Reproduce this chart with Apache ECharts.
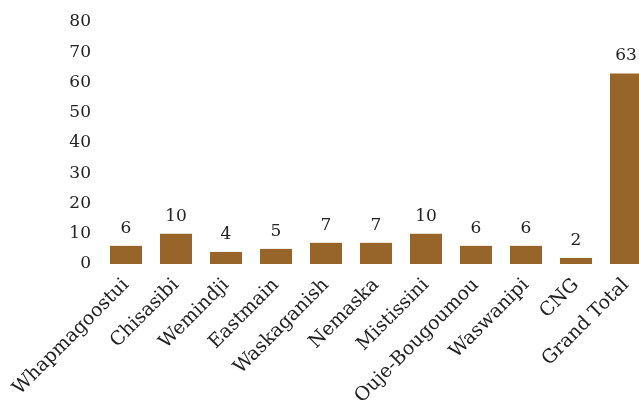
<!DOCTYPE html>
<html><head><meta charset="utf-8">
<script src="https://cdn.jsdelivr.net/npm/echarts@6/dist/echarts.min.js"></script>
<style>html,body{margin:0;padding:0;background:#fff;overflow:hidden}#c{width:651px;height:411px}</style>
</head><body><div id="c"></div>
<script>
const categories = ["Whapmagoostui","Chisasibi","Wemindji","Eastmain","Waskaganish","Nemaska","Mistissini","Ouje-Bougoumou","Waswanipi","CNG","Grand Total"];
const values = [6,10,4,5,7,7,10,6,6,2,63];
const yMin = 0, yMax = 80, yStep = 10;
const FONT = "DejaVu Serif";
const chart = echarts.init(document.getElementById('c'), null, {renderer:'canvas'});
chart.setOption({
  animation:false,
  grid:{left:101, top:22, right:0, bottom:147, containLabel:false},
  xAxis:{type:'category', data:categories,
    axisLine:{show:false}, axisTick:{show:false},
    axisLabel:{rotate:45, interval:0, margin:18, color:'#222', fontFamily:FONT, fontSize:19}},
  yAxis:{type:'value', min:yMin, max:yMax, interval:yStep,
    axisLine:{show:false}, axisTick:{show:false}, splitLine:{show:false},
    axisLabel:{margin:10, color:'#222', fontFamily:FONT, fontSize:17}},
  series:[{type:'bar', data:values, barWidth:32,
    itemStyle:{color:'#97652a'},
    label:{show:true, position:'top', distance:9, color:'#222', fontFamily:FONT, fontSize:17}}]
});
</script></body></html>
